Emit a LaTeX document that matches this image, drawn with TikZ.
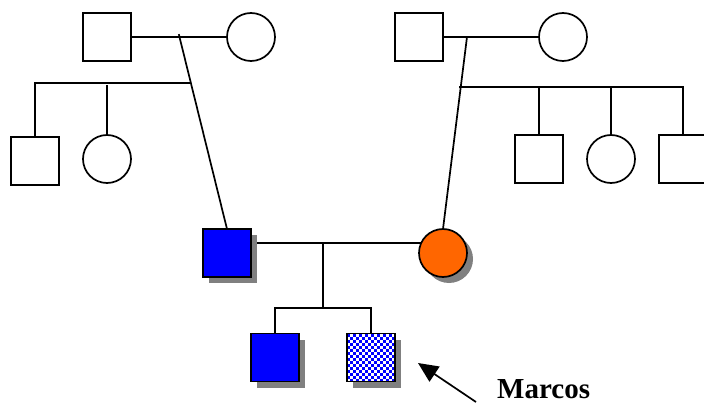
\documentclass[tikz,border=0pt]{standalone}
\usepackage{fontspec}
\setmainfont{Liberation Serif}
\usetikzlibrary{shadows,arrows.meta,calc}
\definecolor{pblue}{RGB}{0,0,255}
\definecolor{porange}{RGB}{255,102,0}
\definecolor{shgray}{RGB}{128,128,128}
\tikzset{
  lw/.style={line width=1.7pt},
  male/.style={draw, lw, rectangle, minimum size=48pt, inner sep=0pt, outer sep=0pt, fill=white},
  female/.style={draw, lw, circle, minimum size=48pt, inner sep=0pt, outer sep=0pt, fill=white},
  shad/.style={drop shadow={shadow xshift=6pt, shadow yshift=-6pt, fill=shgray, opacity=1}},
  link/.style={lw, line cap=rect},
}
\begin{document}
\begin{tikzpicture}[x=1pt,y=-1pt]
\useasboundingbox (0,0) rectangle (704,406);
% coordinates for connector joints
\coordinate (tl) at (179,35);
\coordinate (sl1) at (35,83);
\coordinate (sl2) at (189,83);
\coordinate (slc) at (107,86);
\coordinate (tr) at (467,37);
\coordinate (sr1) at (460,87);
\coordinate (sr2) at (683,87);
\coordinate (mm) at (323,243);
\coordinate (sb) at (323,308);
\coordinate (sb1) at (275,308);
\coordinate (sb2) at (371,308);
\coordinate (atail) at (476,402);
% connectors drawn first
\draw[link] (131,37) -- (227,37);
\draw[link] (443,37) -- (539,37);
\draw[link] (tl) -- (227,229);
\draw[link] (tr) -- (443,229);
\draw[link] (sl1) -- (sl2);
\draw[link] (sl1) -- (35,137);
\draw[link] (slc) -- (107,135);
\draw[link] (sr1) -- (sr2);
\draw[link] (539,87) -- (539,135);
\draw[link] (611,87) -- (611,135);
\draw[link] (sr2) -- (683,135);
\draw[link] (251,243) -- (421,243);
\draw[link] (mm) -- (sb);
\draw[link] (sb1) -- (sb2);
\draw[link] (sb1) -- (275,333);
\draw[link] (sb2) -- (371,333);
% top-left family
\node[male] (gp1) at (107,37) {};
\node[female] (gm1) at (251,37) {};
\node[male] (u1) at (35,161) {};
\node[female] (a1) at (107,159) {};
% top-right family
\node[male] (gp2) at (419,37) {};
\node[female] (gm2) at (563,37) {};
\node[male] (u2) at (539,159) {};
\node[female] (a2) at (611,159) {};
\node[male] (u3) at (683,159) {};
% parents
\node[male, shad, fill=pblue] (father) at (227,253) {};
\node[female, shad, fill=porange] (mother) at (443,253) {};
% children
\node[male, shad, fill=pblue] (sib) at (275,357.5) {};
\node[male, shad, fill=white] (marcos) at (371,357.5) {};
\foreach \i in {0,...,15} {
  \pgfmathtruncatemacro{\off}{mod(\i,2)}
  \foreach \j in {0,...,7} {
    \pgfmathsetmacro{\yy}{(2*\j+\off)*3}
    \fill[pblue] ($(marcos.north west)+(\i*3,\yy)$) rectangle ++(3,3);
  }
}
\draw[lw] (marcos.north west) rectangle (marcos.south east);
% arrow and label
\draw[lw, -{Triangle[length=20pt,width=18pt]}] (atail) -- (418,363);
\node[anchor=base west, inner sep=0pt, font=\fontsize{29}{33}\selectfont\bfseries] (lbl) at (497,398) {Marcos};
\end{tikzpicture}
\end{document}
